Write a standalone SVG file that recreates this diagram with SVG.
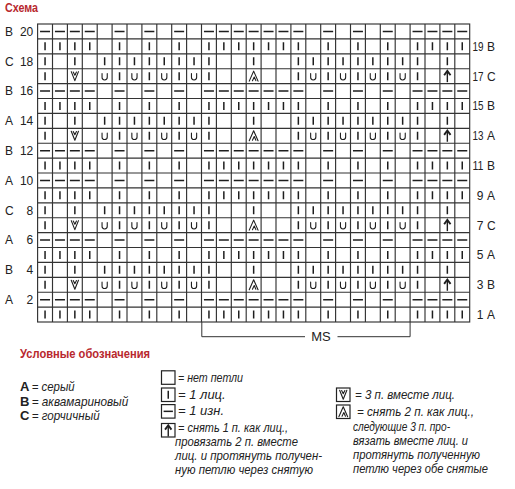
<svg xmlns="http://www.w3.org/2000/svg" xmlns:xlink="http://www.w3.org/1999/xlink" width="515" height="489" viewBox="0 0 515 489">
<style>
  .t{font-family:"Liberation Sans",Arial,sans-serif;fill:#222;}
  .lbl{font-size:12px;}
  .hdr{font-family:"Liberation Sans",Arial,sans-serif;font-weight:bold;font-size:13px;fill:#b8282e;}
  .li{font-family:"Liberation Sans",Arial,sans-serif;font-style:italic;font-size:13px;fill:#222;}
  .lb{font-family:"Liberation Sans",Arial,sans-serif;font-weight:bold;font-size:13px;fill:#222;}
  .grid{fill:none;stroke:#333;stroke-width:1.15;}
  .mk{fill:none;stroke:#1e1e1e;stroke-width:1.5;}
  .thin{fill:none;stroke:#1e1e1e;stroke-width:1.1;stroke-linejoin:round;stroke-linecap:round;}
  .box{fill:#fff;stroke:#222;stroke-width:1.2;}
  .br{fill:none;stroke:#333;stroke-width:1;}
</style>
<defs>
  <path id="sym-u" class="thin" d="M-2.6,-2.6 v3.8 a2.6,2.6 0 0 0 5.2,0 v-3.8"/>
  <g id="sym-v">
    <path class="thin" d="M-3.6,-4.5 L0,4.5 L3.6,-4.5"/>
    <path class="thin" d="M-1.6,-4.2 L0,-1 L1.6,-4.2"/>
  </g>
  <g id="sym-a">
    <path class="thin" d="M-4.4,5 L0,-5 L4.4,5"/>
    <path class="thin" d="M-1.2,4.5 L0.6,0.8 L2.2,4.5"/>
  </g>
  <g id="sym-up">
    <path fill="none" stroke="#1e1e1e" stroke-width="1.4" d="M0,6 V-4.5"/>
    <path fill="none" stroke="#1e1e1e" stroke-width="1.9" stroke-linejoin="miter" d="M-3.2,-0.9 L0,-5.2 L3.2,-0.9"/>
  </g>
  <path id="row-dash" class="mk" d="M40.05,0h10M54.95,0h10M69.85,0h10M84.75,0h10M114.55,0h10M144.35,0h10M174.15,0h10M203.95,0h10M218.85,0h10M233.75,0h10M248.65,0h10M263.55,0h10M278.45,0h10M293.35,0h10M323.15,0h10M352.95,0h10M382.75,0h10M412.55,0h10M427.45,0h10M442.35,0h10M457.25,0h10"/>
  <path id="row-knit" class="mk" d="M45.05,-4v8M59.95,-4v8M74.85,-4v8M89.75,-4v8M119.55,-4v8M149.35,-4v8M179.15,-4v8M208.95,-4v8M223.85,-4v8M238.75,-4v8M253.65,-4v8M268.55,-4v8M283.45,-4v8M298.35,-4v8M328.15,-4v8M357.95,-4v8M387.75,-4v8M417.55,-4v8M432.45,-4v8M447.35,-4v8M462.25,-4v8"/>
  <path id="row-even" class="mk" d="M45.05,-4v8M74.85,-4v8M104.65,-4v8M119.55,-4v8M134.45,-4v8M149.35,-4v8M164.25,-4v8M179.15,-4v8M194.05,-4v8M208.95,-4v8M253.65,-4v8M298.35,-4v8M313.25,-4v8M328.15,-4v8M343.05,-4v8M357.95,-4v8M372.85,-4v8M387.75,-4v8M402.65,-4v8M417.55,-4v8M447.35,-4v8"/>
  <g id="row-dec">
    <path class="mk" d="M45.05,-4v8M119.55,-4v8M149.35,-4v8M179.15,-4v8M208.95,-4v8M298.35,-4v8M328.15,-4v8M357.95,-4v8M387.75,-4v8M417.55,-4v8"/>
    <use xlink:href="#sym-u" x="104.65"/>
    <use xlink:href="#sym-u" x="134.45"/>
    <use xlink:href="#sym-u" x="164.25"/>
    <use xlink:href="#sym-u" x="194.05"/>
    <use xlink:href="#sym-u" x="313.25"/>
    <use xlink:href="#sym-u" x="343.05"/>
    <use xlink:href="#sym-u" x="372.85"/>
    <use xlink:href="#sym-u" x="402.65"/>
    <use xlink:href="#sym-v" x="74.85"/>
    <use xlink:href="#sym-a" x="253.65"/>
    <use xlink:href="#sym-up" x="447.35"/>
  </g>
</defs>
<rect width="515" height="489" fill="#fff"/>
<g id="title"><text class="hdr" x="5" y="12" textLength="33" lengthAdjust="spacingAndGlyphs">Схема</text></g>
<g id="grid">
  <rect class="grid" x="37.6" y="24" width="432.1" height="298"/>
  <path class="grid" d="M52.5,24V322M67.4,24V322M82.3,24V322M97.2,24V322M112.1,24V322M127,24V322M141.9,24V322M156.8,24V322M171.7,24V322M186.6,24V322M201.5,24V322M216.4,24V322M231.3,24V322M246.2,24V322M261.1,24V322M276,24V322M290.9,24V322M305.8,24V322M320.7,24V322M335.6,24V322M350.5,24V322M365.4,24V322M380.3,24V322M395.2,24V322M410.1,24V322M425,24V322M439.9,24V322M454.8,24V322
  M37.6,38.9H469.7M37.6,53.8H469.7M37.6,68.7H469.7M37.6,83.6H469.7M37.6,98.5H469.7M37.6,113.4H469.7M37.6,128.3H469.7M37.6,143.2H469.7M37.6,158.1H469.7M37.6,173H469.7M37.6,187.9H469.7M37.6,202.8H469.7M37.6,217.7H469.7M37.6,232.6H469.7M37.6,247.5H469.7M37.6,262.4H469.7M37.6,277.3H469.7M37.6,292.2H469.7M37.6,307.1H469.7"/>
</g>
<g id="stitches">
  <use xlink:href="#row-dash" y="31.45"/>
  <use xlink:href="#row-knit" y="46.35"/>
  <use xlink:href="#row-even" y="61.25"/>
  <use xlink:href="#row-dec" y="76.15"/>
  <use xlink:href="#row-dash" y="91.05"/>
  <use xlink:href="#row-knit" y="105.95"/>
  <use xlink:href="#row-even" y="120.85"/>
  <use xlink:href="#row-dec" y="135.75"/>
  <use xlink:href="#row-dash" y="150.65"/>
  <use xlink:href="#row-knit" y="165.55"/>
  <use xlink:href="#row-dash" y="180.45"/>
  <use xlink:href="#row-knit" y="195.35"/>
  <use xlink:href="#row-even" y="210.25"/>
  <use xlink:href="#row-dec" y="225.15"/>
  <use xlink:href="#row-dash" y="240.05"/>
  <use xlink:href="#row-knit" y="254.95"/>
  <use xlink:href="#row-even" y="269.85"/>
  <use xlink:href="#row-dec" y="284.75"/>
  <use xlink:href="#row-dash" y="299.65"/>
  <use xlink:href="#row-knit" y="314.55"/>
</g>
<g id="row-labels-left" class="t lbl">
  <text x="5" y="35.8">B</text><text x="33.3" y="35.8" text-anchor="end">20</text>
  <text x="5" y="65.6">C</text><text x="33.3" y="65.6" text-anchor="end">18</text>
  <text x="5" y="95.4">B</text><text x="33.3" y="95.4" text-anchor="end">16</text>
  <text x="5" y="125.2">A</text><text x="33.3" y="125.2" text-anchor="end">14</text>
  <text x="5" y="155">B</text><text x="33.3" y="155" text-anchor="end">12</text>
  <text x="5" y="184.8">A</text><text x="33.3" y="184.8" text-anchor="end">10</text>
  <text x="5" y="214.6">C</text><text x="33.3" y="214.6" text-anchor="end">8</text>
  <text x="5" y="244.4">A</text><text x="33.3" y="244.4" text-anchor="end">6</text>
  <text x="5" y="274.2">B</text><text x="33.3" y="274.2" text-anchor="end">4</text>
  <text x="5" y="304">A</text><text x="33.3" y="304" text-anchor="end">2</text>
</g>
<g id="row-labels-right" class="t lbl">
  <text x="472.5" y="50.7" textLength="11" lengthAdjust="spacingAndGlyphs">19</text><text x="487" y="50.7">B</text>
  <text x="472.5" y="80.5" textLength="11" lengthAdjust="spacingAndGlyphs">17</text><text x="487" y="80.5">C</text>
  <text x="472.5" y="110.3" textLength="11" lengthAdjust="spacingAndGlyphs">15</text><text x="487" y="110.3">B</text>
  <text x="472.5" y="140.1" textLength="11" lengthAdjust="spacingAndGlyphs">13</text><text x="487" y="140.1">A</text>
  <text x="472.5" y="169.9" textLength="11" lengthAdjust="spacingAndGlyphs">11</text><text x="487" y="169.9">B</text>
  <text x="483.5" y="199.7" text-anchor="end">9</text><text x="487" y="199.7">A</text>
  <text x="483.5" y="229.5" text-anchor="end">7</text><text x="487" y="229.5">C</text>
  <text x="483.5" y="259.3" text-anchor="end">5</text><text x="487" y="259.3">A</text>
  <text x="483.5" y="289.1" text-anchor="end">3</text><text x="487" y="289.1">B</text>
  <text x="483.5" y="318.9" text-anchor="end">1</text><text x="487" y="318.9">A</text>
</g>
<g id="ms-bracket">
  <path class="br" d="M201.8,322V336.7H305M337.5,336.7H410.1V322"/>
  <text class="t" x="321" y="340.5" font-size="13" text-anchor="middle">MS</text>
</g>
<g id="legend">
  <text class="hdr" x="20" y="358" textLength="130" lengthAdjust="spacingAndGlyphs">Условные обозначения</text>
  <g id="legend-colors">
    <text class="lb" x="20" y="391">A</text><text class="li" x="31.7" y="391" textLength="43" lengthAdjust="spacingAndGlyphs">= серый</text>
    <text class="lb" x="20" y="405.5">B</text><text class="li" x="31.7" y="405.5" textLength="96.6" lengthAdjust="spacingAndGlyphs">= аквамариновый</text>
    <text class="lb" x="20" y="420">C</text><text class="li" x="31.7" y="420" textLength="68" lengthAdjust="spacingAndGlyphs">= горчичный</text>
  </g>
  <g id="legend-empty">
    <rect class="box" x="161.5" y="370.8" width="13.5" height="13.5"/>
    <text class="li" x="178" y="382" textLength="65" lengthAdjust="spacingAndGlyphs">= нет петли</text>
  </g>
  <g id="legend-knit">
    <rect class="box" x="161.5" y="388" width="13.5" height="13.5"/>
    <path class="mk" d="M168.25,390.8v8"/>
    <text class="li" x="178" y="398.5">= 1 лиц.</text>
  </g>
  <g id="legend-purl">
    <rect class="box" x="161.5" y="404.6" width="13.5" height="13.5"/>
    <path class="mk" d="M163.6,411.35h9.3"/>
    <text class="li" x="178" y="415">= 1 изн.</text>
  </g>
  <g id="legend-up">
    <rect class="box" x="161.5" y="423.5" width="13.5" height="13.5"/>
    <use xlink:href="#sym-up" x="168.25" y="430.5"/>
    <text class="li" x="178" y="432" textLength="110" lengthAdjust="spacingAndGlyphs">= снять 1 п. как лиц.,</text>
    <text class="li" x="175" y="445.8" textLength="123" lengthAdjust="spacingAndGlyphs">провязать 2 п. вместе</text>
    <text class="li" x="175" y="459.8" textLength="147" lengthAdjust="spacingAndGlyphs">лиц. и протянуть получен-</text>
    <text class="li" x="175" y="473.8" textLength="138" lengthAdjust="spacingAndGlyphs">ную петлю через снятую</text>
  </g>
  <g id="legend-v">
    <rect class="box" x="336.5" y="388" width="13.5" height="13.5"/>
    <use xlink:href="#sym-v" x="343.25" y="394.75"/>
    <text class="li" x="355" y="399" textLength="100" lengthAdjust="spacingAndGlyphs">= 3 п. вместе лиц.</text>
  </g>
  <g id="legend-a">
    <rect class="box" x="336.5" y="405" width="13.5" height="13.5"/>
    <use xlink:href="#sym-a" x="343.25" y="411.75"/>
    <text class="li" x="357" y="416" textLength="117" lengthAdjust="spacingAndGlyphs">= снять 2 п. как лиц.,</text>
    <text class="li" x="353" y="430.7" textLength="97" lengthAdjust="spacingAndGlyphs">следующие 3 п. про-</text>
    <text class="li" x="353" y="445" textLength="115" lengthAdjust="spacingAndGlyphs">вязать вместе лиц. и</text>
    <text class="li" x="353" y="459" textLength="127" lengthAdjust="spacingAndGlyphs">протянуть полученную</text>
    <text class="li" x="353" y="473" textLength="135" lengthAdjust="spacingAndGlyphs">петлю через обе снятые</text>
  </g>
</g>
</svg>
